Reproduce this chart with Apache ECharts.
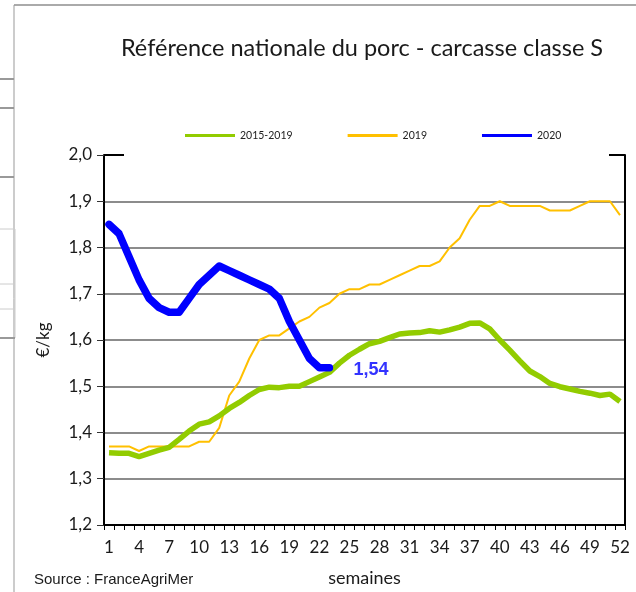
<!DOCTYPE html>
<html>
<head>
<meta charset="utf-8">
<script src="https://cdn.jsdelivr.net/npm/echarts@6/dist/echarts.min.js"></script>
<style>
  html, body { margin: 0; padding: 0; background: #fff; }
  #panel { width: 636px; height: 592px; }
</style>
</head>
<body>
<div id="panel"></div>
<script>
  // semaines 1..52
  const weeks = [];
  for (let w = 1; w <= 52; w++) weeks.push(String(w));

  const yTicks = [1.2, 1.3, 1.4, 1.5, 1.6, 1.7, 1.8, 1.9, 2.0];

  // moyenne 2015-2019
  const avg1519 = [
    1.356, 1.355, 1.355, 1.348, 1.355, 1.362, 1.368, 1.385, 1.403, 1.418,
    1.423, 1.436, 1.452, 1.465, 1.480, 1.493, 1.498, 1.497, 1.500, 1.500,
    1.510, 1.520, 1.530, 1.550, 1.567, 1.580, 1.592, 1.597, 1.605, 1.613,
    1.615, 1.616, 1.620, 1.617, 1.622, 1.628, 1.636, 1.637, 1.624, 1.600,
    1.578, 1.555, 1.533, 1.521, 1.506, 1.499, 1.494, 1.489, 1.485, 1.480,
    1.483, 1.467
  ];

  const y2019 = [
    1.37, 1.37, 1.37, 1.36, 1.37, 1.37, 1.37, 1.37, 1.37, 1.38,
    1.38, 1.41, 1.48, 1.51, 1.56, 1.60, 1.61, 1.61, 1.625, 1.64,
    1.65, 1.67, 1.68, 1.70, 1.71, 1.71, 1.72, 1.72, 1.73, 1.74,
    1.75, 1.76, 1.76, 1.77, 1.80, 1.82, 1.86, 1.89, 1.89, 1.90,
    1.89, 1.89, 1.89, 1.89, 1.88, 1.88, 1.88, 1.89, 1.90, 1.90,
    1.90, 1.87
  ];

  const y2020 = [
    1.85, 1.83, 1.78, 1.73, 1.69, 1.67, 1.66, 1.66, 1.69, 1.72,
    1.74, 1.76, 1.75, 1.74, 1.73, 1.72, 1.71, 1.69, 1.64, 1.60,
    1.56, 1.54, 1.54
  ];

  const panel = echarts.init(document.getElementById("panel"));

  // valeur finale affichée en étiquette
  const data2020 = y2020.map((v, i) => {
    if (i !== y2020.length - 1) return v;
    return {
      value: v,
      label: {
        show: true,
        position: "right",
        distance: 24,
        offset: [0, 2],
        formatter: p => String(p.value).replace(".", ","),
        color: "#3333ff",
        fontSize: 18,
        fontWeight: "bold",
        fontFamily: "Liberation Sans"
      }
    };
  });

  const gridColors = yTicks.map((t, i) => (i === yTicks.length - 1 ? "rgba(0,0,0,0)" : "#8c8c8c"));

  const option = {
    animation: false,
    backgroundColor: "#fff",
    title: {
      text: "Référence nationale du porc - carcasse classe S",
      left: 357,
      top: 31,
      textAlign: "center",
      textStyle: {
        color: "#1a1a1a",
        fontWeight: "normal",
        fontSize: 23.5,
        fontFamily: "Lato"
      }
    },
    legend: {
      top: 125,
      left: 180,
      itemGap: 55,
      itemWidth: 50,
      itemHeight: 3,
      icon: "rect",
      textStyle: { fontSize: 10.5, color: "#222", fontFamily: "Lato" },
      data: ["2015-2019", "2019", "2020"]
    },
    grid: {
      left: 104,
      right: 11,
      top: 155,
      bottom: 64
    },
    xAxis: {
      type: "category",
      boundaryGap: true,
      data: weeks,
      name: "semaines",
      nameLocation: "middle",
      nameGap: 44,
      nameTextStyle: { fontSize: 18, color: "#1a1a1a", fontFamily: "Lato" },
      axisLine: { lineStyle: { color: "#000", width: 2 } },
      axisTick: { show: true, interval: 0, length: 5, lineStyle: { color: "#000", width: 1 } },
      axisLabel: {
        interval: 2,
        margin: 14,
        fontSize: 17,
        color: "#1a1a1a",
        fontFamily: "Lato"
      }
    },
    yAxis: [
      {
        type: "value",
        min: 1.2,
        max: 2.0,
        interval: 0.1,
        name: "€/kg",
        nameLocation: "middle",
        nameGap: 52,
        nameTextStyle: { fontSize: 17, color: "#1a1a1a", fontFamily: "Lato" },
        axisLine: { show: true, lineStyle: { color: "#000", width: 2 } },
        axisTick: { show: true, inside: false, length: 7, lineStyle: { color: "#333", width: 1 } },
        axisLabel: {
          margin: 12,
          fontSize: 17,
          color: "#1a1a1a",
          fontFamily: "Lato",
          formatter: v => v.toFixed(1).replace(".", ",")
        },
        splitLine: { show: true, lineStyle: { color: gridColors, width: 2 } }
      },
      {
        type: "value",
        min: 1.2,
        max: 2.0,
        position: "right",
        axisLine: { show: true, lineStyle: { color: "#000", width: 2 } },
        axisTick: { show: false },
        axisLabel: { show: false },
        splitLine: { show: false }
      }
    ],
    series: [
      {
        name: "2015-2019",
        type: "line",
        data: avg1519,
        symbol: "none",
        z: 3,
        lineStyle: { color: "#92cc00", width: 5.5 },
        itemStyle: { color: "#92cc00" }
      },
      {
        name: "2019",
        type: "line",
        data: y2019,
        symbol: "none",
        z: 2,
        lineStyle: { color: "#ffc000", width: 2 },
        itemStyle: { color: "#ffc000" }
      },
      {
        name: "2020",
        type: "line",
        data: data2020,
        symbol: "circle",
        symbolSize: 0,
        showSymbol: true,
        z: 4,
        lineStyle: { color: "#0000ff", width: 7.5, join: "round", cap: "round" },
        itemStyle: { color: "#0000ff" }
      }
    ],
    graphic: [
      // petits traits en haut du cadre
      { type: "line", shape: { x1: 104, y1: 155, x2: 124, y2: 155 }, style: { stroke: "#000", lineWidth: 2 } },
      { type: "line", shape: { x1: 609, y1: 155, x2: 625, y2: 155 }, style: { stroke: "#000", lineWidth: 2 } },
      // bordures de la page
      { type: "line", shape: { x1: 14, y1: 5, x2: 636, y2: 5 }, style: { stroke: "#aaa", lineWidth: 2 } },
      { type: "line", shape: { x1: 14, y1: 5, x2: 14, y2: 592 }, style: { stroke: "#999", lineWidth: 1 } },
      { type: "line", shape: { x1: 0, y1: 79, x2: 14, y2: 79 }, style: { stroke: "#999", lineWidth: 2 } },
      { type: "line", shape: { x1: 0, y1: 108, x2: 14, y2: 108 }, style: { stroke: "#999", lineWidth: 2 } },
      { type: "line", shape: { x1: 0, y1: 177, x2: 14, y2: 177 }, style: { stroke: "#999", lineWidth: 2 } },
      { type: "line", shape: { x1: 0, y1: 229, x2: 15, y2: 229 }, style: { stroke: "#ccc", lineWidth: 1 } },
      { type: "line", shape: { x1: 0, y1: 284, x2: 15, y2: 284 }, style: { stroke: "#ccc", lineWidth: 1 } },
      { type: "line", shape: { x1: 0, y1: 309, x2: 15, y2: 309 }, style: { stroke: "#ccc", lineWidth: 1 } },
      { type: "line", shape: { x1: 15, y1: 229, x2: 15, y2: 338 }, style: { stroke: "#ccc", lineWidth: 1 } },
      { type: "line", shape: { x1: 0, y1: 338, x2: 15, y2: 338 }, style: { stroke: "#999", lineWidth: 2 } },
      {
        type: "text",
        left: 34,
        top: 572,
        style: { text: "Source : FranceAgriMer", fontSize: 15, fill: "#1a1a1a", fontFamily: "Liberation Sans" }
      }
    ]
  };
  panel.setOption(option, true);
</script>
</body>
</html>
